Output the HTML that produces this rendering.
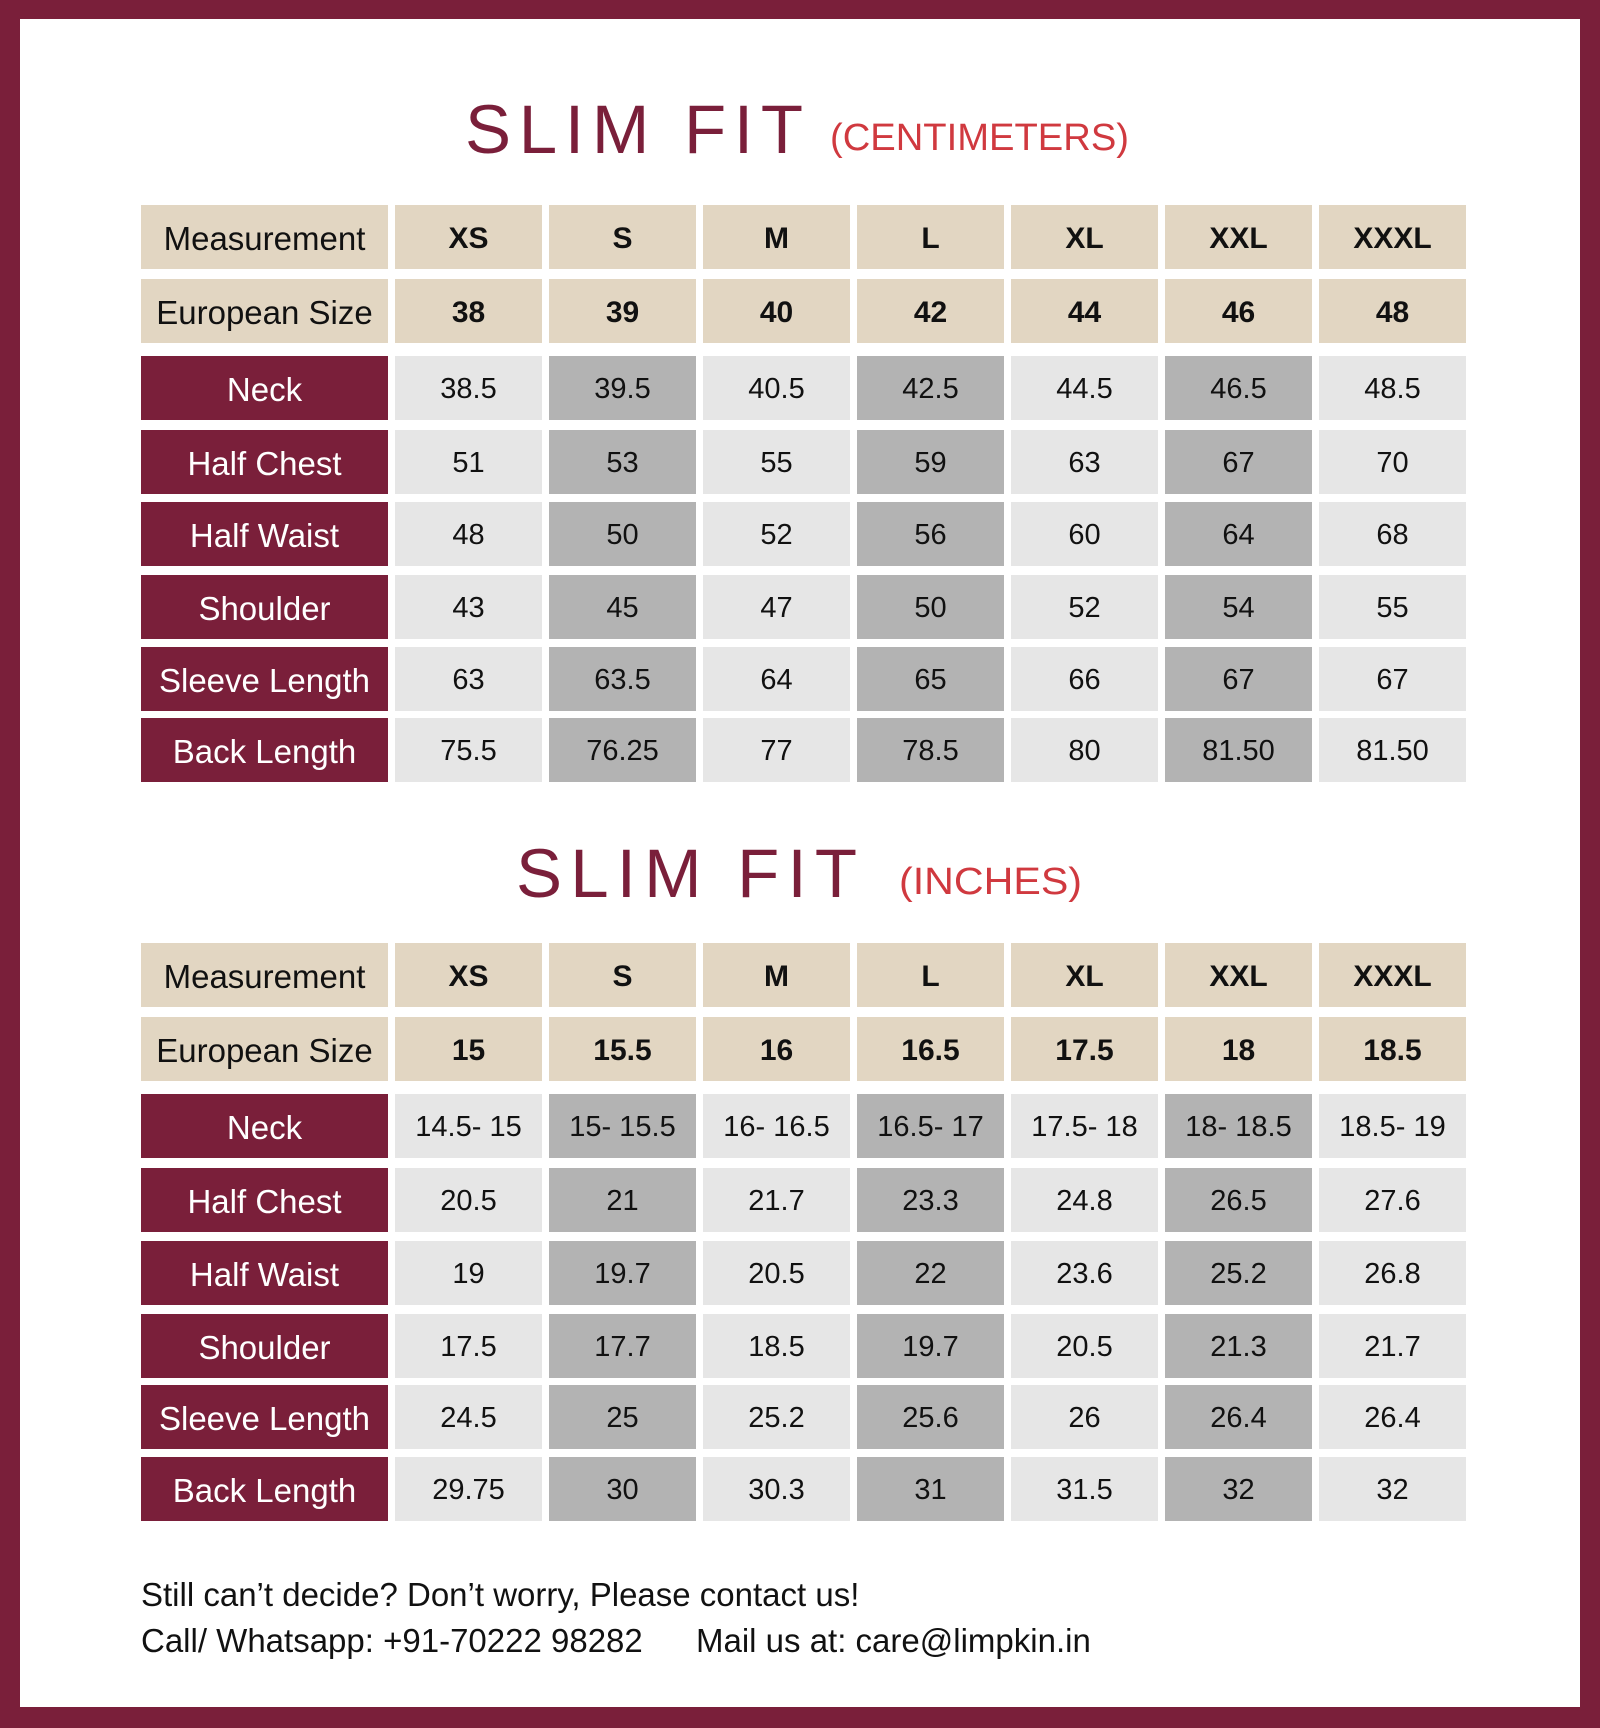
<!DOCTYPE html>
<html><head><meta charset="utf-8"><style>
body{margin:0;width:1600px;height:1728px;background:#7a1f3a;position:relative;overflow:hidden;font-family:"Liberation Sans",sans-serif}
.inner{position:absolute;left:20px;top:19px;width:1560px;height:1688px;background:#fff}
.row{position:absolute;left:141px;height:64px;display:flex;gap:7px}
.row div{width:147px;height:100%;display:flex;align-items:center;justify-content:center;font-size:29px;color:#111;padding-top:3px;box-sizing:border-box}
.row div:first-child{width:247px;font-size:33px}
.h div{background:#e2d6c2;font-weight:bold;font-size:30px}
.h div:first-child{font-weight:normal}
.d div:first-child{background:#7a1f3a;color:#fff}
.d div:nth-child(even){background:#e6e6e6}
.d div:nth-child(odd):not(:first-child){background:#b3b3b3}
svg{position:absolute;left:0;top:0}
.foot{position:absolute;left:141px;font-size:33px;color:#111}
</style></head><body>
<div class="inner"></div>
<svg width="1600" height="1728">
<text x="465" y="153" font-family="Liberation Sans" font-size="69" fill="#7a1f3a" textLength="338" lengthAdjust="spacing">SLIM FIT</text>
<text x="830" y="150" font-family="Liberation Sans" font-size="38" fill="#d0393f" textLength="299" lengthAdjust="spacingAndGlyphs">(CENTIMETERS)</text>
<text x="516" y="897" font-family="Liberation Sans" font-size="69" fill="#7a1f3a" textLength="341" lengthAdjust="spacing">SLIM FIT</text>
<text x="899" y="894" font-family="Liberation Sans" font-size="38" fill="#d0393f" textLength="183" lengthAdjust="spacingAndGlyphs">(INCHES)</text>
</svg>

<div class="row h" style="top:205px"><div>Measurement</div><div>XS</div><div>S</div><div>M</div><div>L</div><div>XL</div><div>XXL</div><div>XXXL</div></div>
<div class="row h" style="top:279px"><div>European Size</div><div>38</div><div>39</div><div>40</div><div>42</div><div>44</div><div>46</div><div>48</div></div>
<div class="row d" style="top:356px"><div>Neck</div><div>38.5</div><div>39.5</div><div>40.5</div><div>42.5</div><div>44.5</div><div>46.5</div><div>48.5</div></div>
<div class="row d" style="top:430px"><div>Half Chest</div><div>51</div><div>53</div><div>55</div><div>59</div><div>63</div><div>67</div><div>70</div></div>
<div class="row d" style="top:502px"><div>Half Waist</div><div>48</div><div>50</div><div>52</div><div>56</div><div>60</div><div>64</div><div>68</div></div>
<div class="row d" style="top:575px"><div>Shoulder</div><div>43</div><div>45</div><div>47</div><div>50</div><div>52</div><div>54</div><div>55</div></div>
<div class="row d" style="top:647px"><div>Sleeve Length</div><div>63</div><div>63.5</div><div>64</div><div>65</div><div>66</div><div>67</div><div>67</div></div>
<div class="row d" style="top:718px"><div>Back Length</div><div>75.5</div><div>76.25</div><div>77</div><div>78.5</div><div>80</div><div>81.50</div><div>81.50</div></div>

<div class="row h" style="top:943px"><div>Measurement</div><div>XS</div><div>S</div><div>M</div><div>L</div><div>XL</div><div>XXL</div><div>XXXL</div></div>
<div class="row h" style="top:1017px"><div>European Size</div><div>15</div><div>15.5</div><div>16</div><div>16.5</div><div>17.5</div><div>18</div><div>18.5</div></div>
<div class="row d" style="top:1094px"><div>Neck</div><div>14.5- 15</div><div>15- 15.5</div><div>16- 16.5</div><div>16.5- 17</div><div>17.5- 18</div><div>18- 18.5</div><div>18.5- 19</div></div>
<div class="row d" style="top:1168px"><div>Half Chest</div><div>20.5</div><div>21</div><div>21.7</div><div>23.3</div><div>24.8</div><div>26.5</div><div>27.6</div></div>
<div class="row d" style="top:1241px"><div>Half Waist</div><div>19</div><div>19.7</div><div>20.5</div><div>22</div><div>23.6</div><div>25.2</div><div>26.8</div></div>
<div class="row d" style="top:1314px"><div>Shoulder</div><div>17.5</div><div>17.7</div><div>18.5</div><div>19.7</div><div>20.5</div><div>21.3</div><div>21.7</div></div>
<div class="row d" style="top:1385px"><div>Sleeve Length</div><div>24.5</div><div>25</div><div>25.2</div><div>25.6</div><div>26</div><div>26.4</div><div>26.4</div></div>
<div class="row d" style="top:1457px"><div>Back Length</div><div>29.75</div><div>30</div><div>30.3</div><div>31</div><div>31.5</div><div>32</div><div>32</div></div>

<div class="foot" style="top:1576px">Still can’t decide? Don’t worry, Please contact us!</div>
<div class="foot" style="top:1622px">Call/ Whatsapp: +91-70222 98282</div>
<div class="foot" style="top:1622px;left:696px">Mail us at: care@limpkin.in</div>
</body></html>
